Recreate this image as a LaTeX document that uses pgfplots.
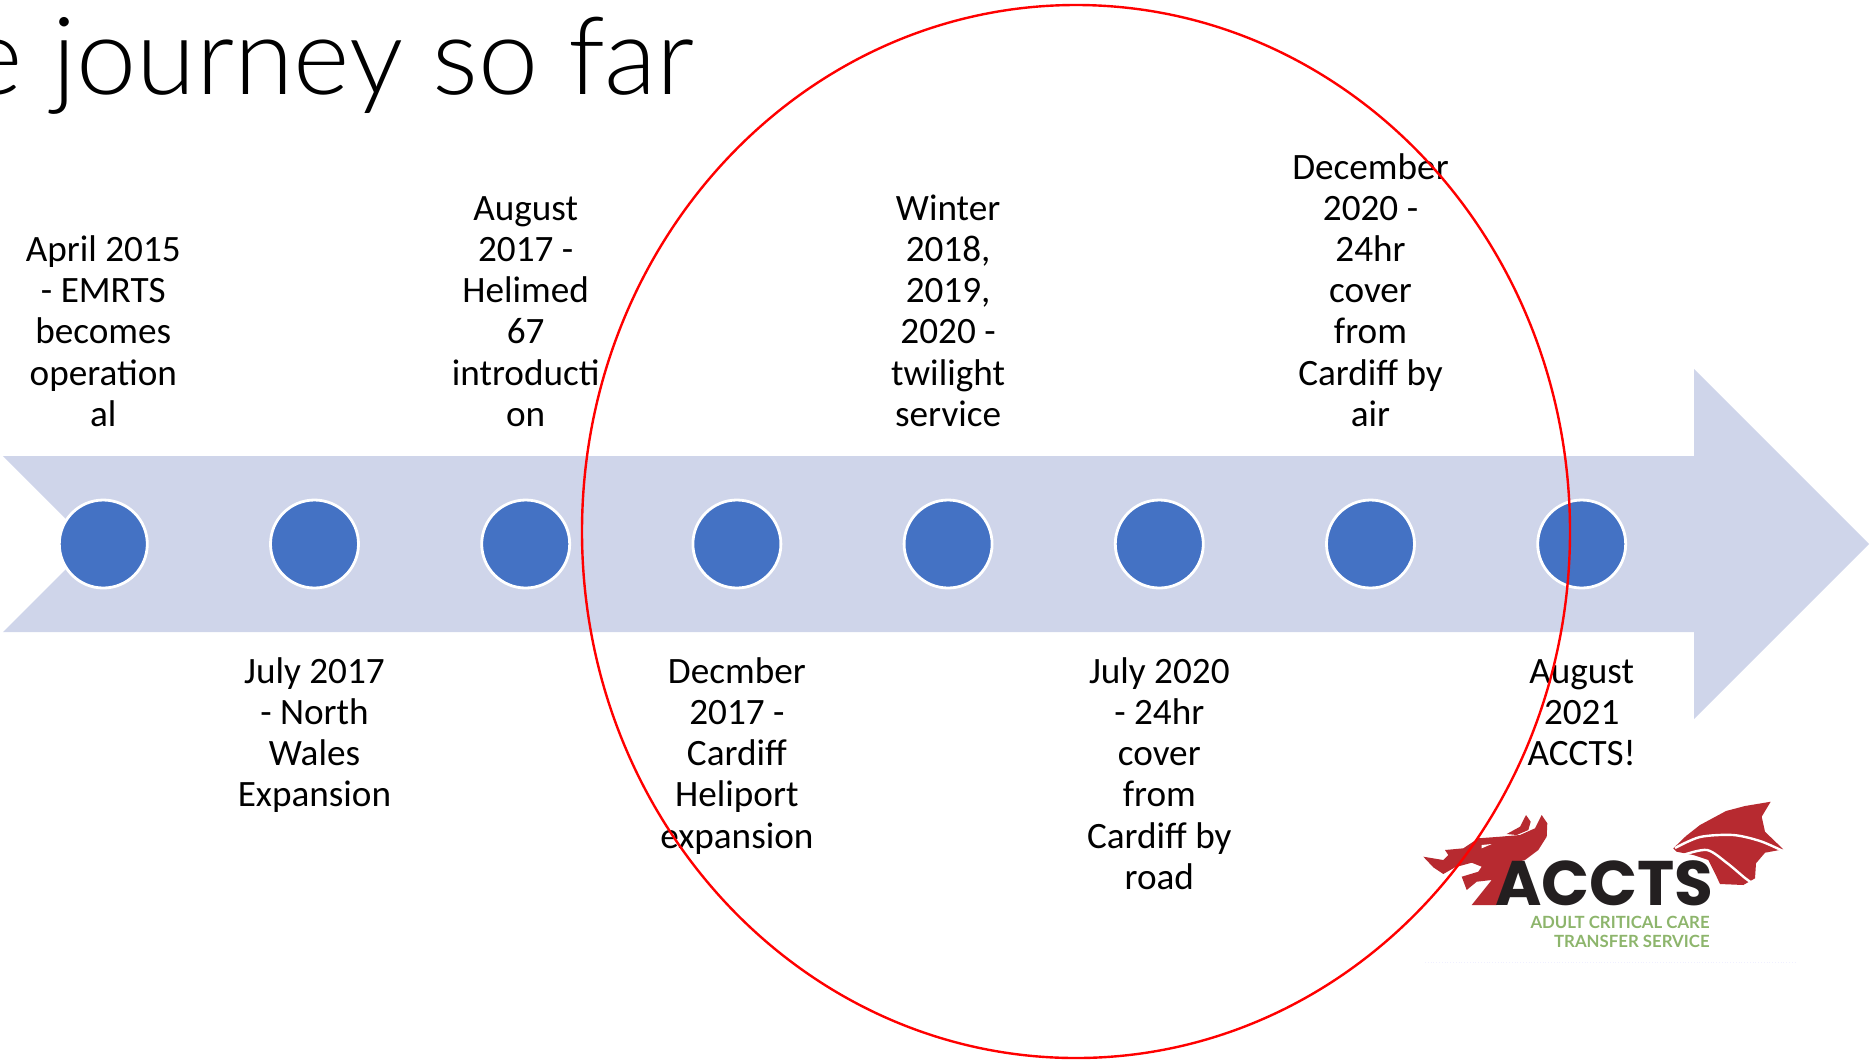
\documentclass[border=0pt]{standalone}
\usepackage{fontspec}
\setmainfont{Carlito}
\newfontfamily\pop{Poppins}[BoldFont=Poppins Bold]
\newfontfamily\lat{Lato}
\newfontfamily\latl{Lato Light}
\usepackage{pgfplots}
\pgfplotsset{compat=1.18}
\definecolor{band}{HTML}{CFD5EA}
\definecolor{dot}{HTML}{4472C4}
\definecolor{drag}{HTML}{B72A30}
\definecolor{grn}{HTML}{8DB56C}
\definecolor{ink}{HTML}{231F20}
\tikzset{tl/.style={align=center,font=\fontsize{18.6}{20.6}\selectfont,inner sep=0pt,text=black}}
\begin{document}
\begin{tikzpicture}
\useasboundingbox (0,0) rectangle (935pt,531pt);
\begin{axis}[
  at={(0,0)},anchor=south west,
  scale only axis,width=935pt,height=531pt,
  xmin=0,xmax=1870,ymin=0,ymax=1062,y dir=reverse,
  hide axis,clip=false,
]
% arrow
\addplot[fill=band,draw=none] coordinates {(3,456)(1694,456)(1694,369)(1869,544)(1694,719)(1694,632)(3,632)(91,544)} -- cycle;
% dots
\addplot[only marks,mark=*,mark size=22pt,mark options={fill=dot,draw=white,line width=1.4pt}] coordinates {
(103.3,544)(314.5,544)(525.7,544)(736.9,544)(948.1,544)(1159.3,544)(1370.5,544)(1581.7,544)};
% title
\node[anchor=base east,inner sep=0pt,font=\latl\fontsize{54}{60}\selectfont] at (axis cs:695,94) {The journey so far};
% upper labels
\node[tl,anchor=south] at (axis cs:103.3,427) {April 2015\\- EMRTS\\becomes\\operation\\al};
\node[tl,anchor=south] at (axis cs:525.7,427) {August\\2017 -\\Helimed\\67\\introducti\\on};
\node[tl,anchor=south] at (axis cs:948.1,427) {Winter\\2018,\\2019,\\2020 -\\twilight\\service};
\node[tl,anchor=south] at (axis cs:1370.5,427) {December\\2020 -\\24hr\\cover\\from\\Cardiff by\\air};
% lower labels
\node[tl,anchor=north] at (axis cs:314.5,657) {July 2017\\- North\\Wales\\Expansion};
\node[tl,anchor=north] at (axis cs:736.9,657) {Decmber\\2017 -\\Cardiff\\Heliport\\expansion};
\node[tl,anchor=north] at (axis cs:1159.3,657) {July 2020\\- 24hr\\cover\\from\\Cardiff by\\road};
\node[tl,anchor=north] at (axis cs:1581.7,659) {August\\2021\\ACCTS!};
% logo: dragon head, horn, wing
\addplot[fill=drag,draw=none] coordinates {
(1423.3,856.7)(1443.3,860)(1448.3,855)(1445,850)(1463.3,848.3)(1478.3,838.3)(1500,836.7)(1520,835)(1535,828.3)(1541.7,815)(1547.3,823.3)(1546.7,836.7)(1538.3,850)(1525,860)(1511.7,863.3)(1496.7,905)(1471.7,905)(1491.7,880)(1476.7,881.7)(1466.7,890)(1461.7,876.7)(1478.3,871.7)(1481.7,866.7)(1471.7,862.7)(1455,867.3)(1443.3,874)(1433.3,867.3)} -- cycle;
\addplot[fill=drag,draw=none] coordinates {
(1506.7,834)(1520,826.7)(1526,815)(1530.7,821.7)(1528.3,830)(1516.7,835)} -- cycle;
\addplot[fill=white,draw=none] coordinates {(1481.7,848.3)(1491.7,844)(1481.7,845)} -- cycle;
\addplot[fill=drag,draw=none] coordinates {
(1673.3,848.3)(1686,836)(1700,825)(1726,811)(1745,806)(1770.7,801.7)(1761.7,816.7)(1765,831.7)(1783.3,849.3)(1765,852.7)(1756,863.3)(1755,878.3)(1743.3,885)(1720,884)(1715,873.3)(1708.3,860)(1693.3,855)(1676.7,851.7)} -- cycle;
\addplot[white,line width=1.2pt,smooth,tension=0.5] coordinates {(1675,848)(1700,837)(1733,835)(1760,841)(1783,851)};
\addplot[white,line width=1.2pt,smooth,tension=0.5] coordinates {(1683,855)(1707,850)(1727,863)(1745,878)(1755,885)};
\node[anchor=base east,inner sep=0pt,text=ink,font=\pop\bfseries\fontsize{31.5}{32}\selectfont] at (axis cs:1714,905) {ACCTS};
\node[anchor=base east,inner sep=0pt,text=grn,font=\lat\bfseries\fontsize{8.4}{9}\selectfont] at (axis cs:1710,928) {ADULT CRITICAL CARE};
\node[anchor=base east,inner sep=0pt,text=grn,font=\lat\bfseries\fontsize{8.4}{9}\selectfont] at (axis cs:1710,947) {TRANSFER SERVICE};
\addplot[densely dotted,color=blue!6,line width=0.4pt] coordinates {(1425,962)(1795,962)};
% red ellipse
\addplot[only marks,mark=o,mark size=247pt,mark options={draw=red,line width=1.2pt,yscale=1.0658}] coordinates {(1076,531.5)};
\end{axis}
\end{tikzpicture}
\end{document}
